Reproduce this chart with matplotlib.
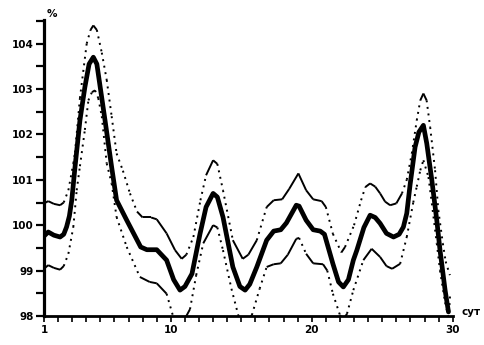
import numpy as np
import matplotlib
matplotlib.use("Agg")
import matplotlib.pyplot as plt
from matplotlib.collections import LineCollection

# ============================
# DATA
# ============================
mean_days = [1.0, 1.3, 1.7, 2.14, 2.4, 2.6, 2.8, 2.97, 3.2, 3.55, 3.9, 4.2, 4.5,
             4.75, 4.97, 5.33, 5.8, 6.15, 6.87, 7.86, 8.3, 9.0, 9.7, 10.2, 10.65,
             11.0, 11.5, 12.07, 12.5, 13.0, 13.3, 13.7, 14.4, 14.9, 15.27, 15.6,
             16.1, 16.8, 17.3, 17.8, 18.2, 18.9, 19.1, 19.6, 20.1, 20.6, 20.9,
             21.5, 21.9, 22.24, 22.6, 22.95, 23.2, 23.7, 24.14, 24.5, 24.85,
             25.3, 25.8, 26.2, 26.5, 26.74, 26.98, 27.33, 27.6, 27.92, 28.16,
             28.52, 28.87, 29.1, 29.46, 29.7]
mean_vals = [99.76, 99.85, 99.78, 99.74, 99.8, 99.96, 100.2, 100.55, 101.28, 102.31,
             103.04, 103.55, 103.7, 103.55, 103.08, 102.31, 101.28, 100.55, 100.11,
             99.52, 99.46, 99.46, 99.23, 98.8, 98.57, 98.65, 98.93, 99.81, 100.4,
             100.7, 100.62, 100.18, 99.08, 98.65, 98.57, 98.7, 99.08, 99.67, 99.87,
             99.9, 100.05, 100.44, 100.42, 100.11, 99.9, 99.87, 99.8, 99.15, 98.75,
             98.64, 98.8, 99.23, 99.45, 99.95, 100.22, 100.17, 100.04, 99.82, 99.74,
             99.8, 99.96, 100.26, 100.9, 101.72, 102.05, 102.2, 101.8, 100.99,
             100.11, 99.45, 98.57, 98.09]

upper_days = [1.0, 1.3, 1.7, 2.14, 2.4, 2.73, 3.08, 3.2, 3.55, 4.03, 4.3, 4.5, 4.75,
              5.1, 5.45, 5.8, 6.15, 6.6, 7.1, 7.6, 8.0, 8.6, 9.0, 9.7, 10.3, 10.77,
              11.1, 11.6, 12.1, 12.5, 13.0, 13.3, 13.7, 14.4, 15.1, 15.5, 16.1,
              16.8, 17.3, 17.9, 18.4, 19.05, 19.6, 20.1, 20.7, 21.0, 21.5, 22.1,
              22.36, 23.0, 23.5, 23.8, 24.14, 24.5, 24.85, 25.2, 25.56, 26.0, 26.4,
              26.74, 27.1, 27.45, 27.7, 27.92, 28.15, 28.4, 28.75, 28.98, 29.3,
              29.5, 29.8]
upper_vals = [100.48, 100.53, 100.47, 100.44, 100.5, 100.77, 101.36, 101.6, 102.8,
              104.0, 104.3, 104.4, 104.3, 103.8, 103.2, 102.4, 101.58, 101.2, 100.7,
              100.3, 100.17, 100.17, 100.13, 99.82, 99.45, 99.26, 99.35, 99.74,
              100.55, 101.1, 101.43, 101.35, 100.77, 99.67, 99.26, 99.35, 99.67,
              100.4, 100.55, 100.57, 100.8, 101.14, 100.77, 100.57, 100.53, 100.4,
              99.81, 99.4, 99.52, 100.0, 100.55, 100.84, 100.92, 100.85, 100.7,
              100.52, 100.44, 100.48, 100.7, 101.0, 101.58, 102.31, 102.75, 102.9,
              102.75, 102.16, 101.21, 100.33, 99.6, 99.2, 98.9]

lower_days = [1.0, 1.3, 1.7, 2.14, 2.4, 2.73, 3.08, 3.32, 3.55, 3.9, 4.15, 4.4,
              4.62, 4.85, 5.1, 5.45, 5.8, 6.15, 6.87, 7.8, 8.5, 9.0, 9.7, 10.2,
              10.65, 11.1, 11.36, 11.8, 12.3, 13.0, 13.3, 13.7, 14.3, 14.8, 15.27,
              15.75, 16.3, 16.8, 17.3, 17.8, 18.3, 18.9, 19.1, 19.6, 20.1, 20.8,
              21.1, 21.5, 22.0, 22.24, 22.5, 22.95, 23.66, 24.25, 24.85, 25.3,
              25.7, 26.27, 26.74, 27.2, 27.45, 27.7, 27.92, 28.28, 28.52, 28.87,
              29.1, 29.46, 29.72, 29.82]
lower_vals = [99.04, 99.12, 99.06, 99.02, 99.1, 99.37, 99.96, 100.77, 101.3, 102.1,
              102.75, 102.93, 102.97, 102.8, 102.4, 101.36, 100.92, 100.18, 99.52,
              98.86, 98.75, 98.72, 98.49, 97.95, 97.85, 98.0, 98.15, 98.9, 99.6,
              100.0, 99.95, 99.45, 98.6, 98.0, 97.85, 98.02, 98.6, 99.08, 99.14,
              99.16, 99.35, 99.7, 99.72, 99.37, 99.16, 99.14, 99.0, 98.49, 98.02,
              97.92, 98.05, 98.57, 99.23, 99.48, 99.3, 99.1, 99.04, 99.15, 99.74,
              100.5, 100.85, 101.21, 101.43, 101.06, 100.48, 99.6, 99.0, 98.3,
              97.95, 98.5]

y_major = [98, 99, 100, 101, 102, 103, 104]
y_minor = [98.5, 99.5, 100.5, 101.5, 102.5, 103.5, 104.5]
x_ticks = list(range(1, 31))
x_labels = {1: "1", 10: "10", 20: "20", 30: "30"}

# ============================
# FIGURE
# ============================
W, H = 485, 345
fig = plt.figure(figsize=(W / 100, H / 100), dpi=100)
ax = fig.add_axes([44 / W, 29 / H, (452.7 - 44) / W, (316 - 20) / H])
ax.set_xlim(1, 30)
ax.set_ylim(98, 104.52)

# ratio used to judge how steep a segment looks on screen
px_ratio = ((316 - 20) / (104.52 - 98)) / ((452.7 - 44) / 29)


def draw_bound(x, y):
    # flat parts look solid, steep parts break up into dots
    x = np.asarray(x)
    y = np.asarray(y)
    pts = np.column_stack([x, y])
    segs = np.stack([pts[:-1], pts[1:]], axis=1)
    slope = np.abs(np.diff(y) / np.diff(x)) * px_ratio
    styles = [(0, (1.0, 2.4)) if s > 2.2 else "solid" for s in slope]
    lc = LineCollection(segs, linestyles=styles, colors="black", linewidths=1.4)
    ax.add_collection(lc)


draw_bound(upper_days, upper_vals)
draw_bound(lower_days, lower_vals)
ax.plot(mean_days, mean_vals, color="black", lw=3.4, solid_joinstyle="round",
        solid_capstyle="round")

# axes style
for s in ["top", "right"]:
    ax.spines[s].set_visible(False)
ax.spines["left"].set_linewidth(2.3)
ax.spines["bottom"].set_linewidth(2.0)

ax.set_yticks(y_major)
ax.set_yticks(y_minor, minor=True)
ax.set_yticklabels([str(v) for v in y_major])
ax.set_xticks(x_ticks)
ax.set_xticklabels([x_labels.get(d, "") for d in x_ticks])

ax.tick_params(axis="y", which="both", direction="out", length=5.5, width=1.6, pad=2)
ax.tick_params(axis="x", which="both", direction="out", length=4.5, width=1.2, pad=2)
for lbl in ax.get_xticklabels() + ax.get_yticklabels():
    lbl.set_fontweight("bold")
    lbl.set_fontsize(7.5)

fig.text(52 / W, 1 - 14 / H, "%", fontsize=7.5, fontweight="bold", ha="center", va="center")
fig.text(471 / W, 1 - 312 / H, "сут", fontsize=7.5, fontweight="bold", ha="center", va="center")

fig.savefig("out.png", dpi=100)
